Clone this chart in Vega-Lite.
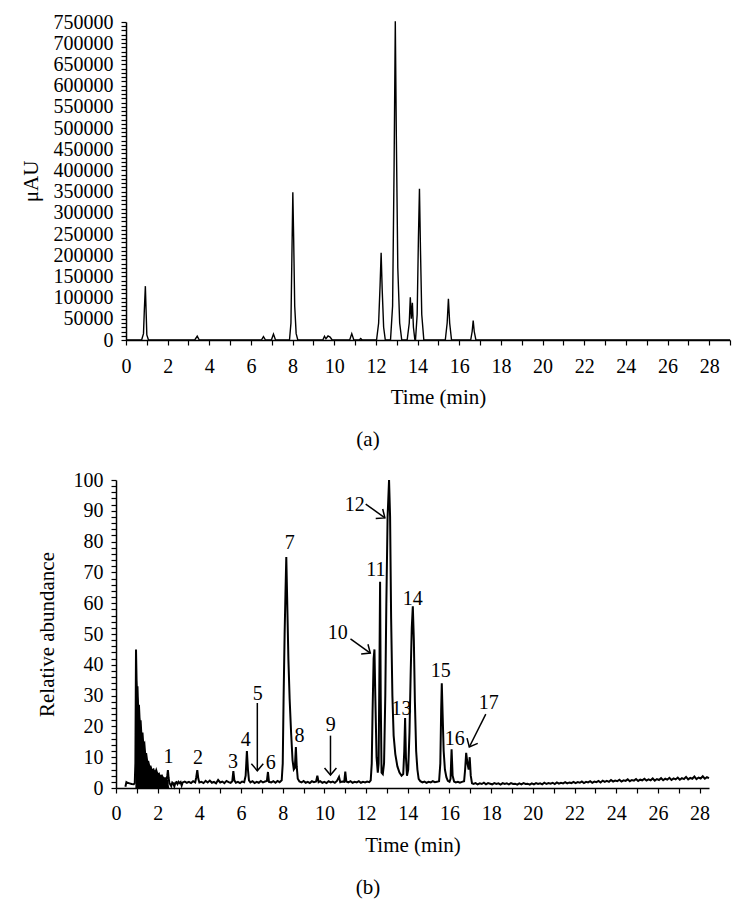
{
  "$schema": "https://vega.github.io/schema/vega-lite/v6.json",
  "background": "white",
  "padding": {"left": 20, "top": 12, "right": 5, "bottom": 5},
  "spacing": 20,
  "config": {
    "view": {"stroke": null},
    "font": "Liberation Serif",
    "axis": {
      "grid": false, "domainColor": "black", "domainWidth": 1.5, "tickColor": "black", "tickWidth": 1.2, "tickSize": 5,
      "labelColor": "black", "titleColor": "black", "labelFont": "Liberation Serif", "titleFont": "Liberation Serif",
      "labelFontSize": 20, "titleFontSize": 21, "titleFontWeight": "normal", "labelOverlap": false, "labelFlush": false, "labelBound": false
    },
    "title": {"font": "Liberation Serif", "fontSize": 21, "fontWeight": "normal", "color": "black"}
  },
  "datasets": {
    "a": [
      {"t":0,"v":0},{"t":0.75,"v":0},{"t":0.84,"v":15000},{"t":0.88,"v":70000},{"t":0.93,"v":127000},{"t":0.97,"v":60000},{"t":1.0,"v":12000},{"t":1.08,"v":0},
      {"t":3.3,"v":0},{"t":3.42,"v":9000},{"t":3.52,"v":0},
      {"t":6.5,"v":0},{"t":6.6,"v":8000},{"t":6.7,"v":0},
      {"t":6.98,"v":0},{"t":7.08,"v":14000},{"t":7.18,"v":0},
      {"t":7.85,"v":0},{"t":7.92,"v":40000},{"t":7.96,"v":180000},{"t":8.01,"v":348500},{"t":8.05,"v":240000},{"t":8.1,"v":80000},{"t":8.17,"v":15000},{"t":8.25,"v":0},
      {"t":9.45,"v":0},{"t":9.53,"v":9000},{"t":9.6,"v":3000},{"t":9.7,"v":9500},{"t":9.8,"v":7000},{"t":9.9,"v":0},
      {"t":10.74,"v":0},{"t":10.84,"v":15000},{"t":10.94,"v":0},
      {"t":11.2,"v":0},{"t":11.27,"v":3500},{"t":11.34,"v":0},
      {"t":12.03,"v":0},{"t":12.13,"v":40000},{"t":12.2,"v":130000},{"t":12.25,"v":205600},{"t":12.3,"v":120000},{"t":12.37,"v":30000},{"t":12.45,"v":0},
      {"t":12.7,"v":0},{"t":12.8,"v":80000},{"t":12.87,"v":400000},{"t":12.93,"v":752000},{"t":12.98,"v":480000},{"t":13.05,"v":170000},{"t":13.14,"v":40000},{"t":13.24,"v":0},
      {"t":13.5,"v":0},{"t":13.6,"v":40000},{"t":13.65,"v":101000},{"t":13.7,"v":50000},{"t":13.75,"v":88000},{"t":13.8,"v":30000},{"t":13.87,"v":0},
      {"t":13.9,"v":0},{"t":13.98,"v":60000},{"t":14.04,"v":240000},{"t":14.09,"v":356500},{"t":14.14,"v":210000},{"t":14.2,"v":60000},{"t":14.3,"v":0},
      {"t":15.33,"v":0},{"t":15.42,"v":40000},{"t":15.48,"v":97000},{"t":15.54,"v":40000},{"t":15.63,"v":0},
      {"t":16.55,"v":0},{"t":16.62,"v":20000},{"t":16.67,"v":46000},{"t":16.72,"v":20000},{"t":16.8,"v":0},
      {"t":29,"v":0}
    ],
    "fill": [
      {"t":0.93,"v":0},{"t":0.95,"v":44},{"t":0.97,"v":45},{"t":1.0,"v":36},{"t":1.05,"v":30},{"t":1.1,"v":27},{"t":1.15,"v":23},{"t":1.2,"v":20},{"t":1.25,"v":18},{"t":1.3,"v":15.5},{"t":1.35,"v":14},{"t":1.4,"v":12},{"t":1.45,"v":10.5},{"t":1.5,"v":9},{"t":1.55,"v":8.3},{"t":1.6,"v":7.5},{"t":1.68,"v":6.8},{"t":1.75,"v":6.2},{"t":1.85,"v":5.8},{"t":1.93,"v":5.6},{"t":2.0,"v":5},{"t":2.1,"v":4.4},{"t":2.2,"v":4},{"t":2.3,"v":3.4},{"t":2.4,"v":2.9},{"t":2.5,"v":2.5},{"t":2.55,"v":0}
    ],
    "b": [
      {"t":0.45,"v":0.4},{"t":0.5,"v":1.9},{"t":0.55,"v":1.7},{"t":0.65,"v":1.5},{"t":0.75,"v":1.3},{"t":0.85,"v":1.2},{"t":0.9,"v":1.6},{"t":0.93,"v":8},{"t":0.96,"v":45},
      {"t":1.0,"v":30},{"t":1.03,"v":33},{"t":1.06,"v":26},{"t":1.1,"v":27},{"t":1.14,"v":21},{"t":1.18,"v":22},{"t":1.22,"v":17},{"t":1.27,"v":18},{"t":1.31,"v":14},{"t":1.36,"v":14.5},{"t":1.4,"v":11},{"t":1.45,"v":11},{"t":1.5,"v":8.5},{"t":1.55,"v":8.5},{"t":1.6,"v":7},{"t":1.66,"v":7},{"t":1.72,"v":5.5},{"t":1.8,"v":6},{"t":1.86,"v":4.5},{"t":1.93,"v":5.8},{"t":2.0,"v":4.2},{"t":2.06,"v":4.6},{"t":2.12,"v":3.5},{"t":2.2,"v":4},{"t":2.28,"v":3},{"t":2.35,"v":3.2},{"t":2.42,"v":2.4},{"t":2.46,"v":4},{"t":2.49,"v":5.8},{"t":2.52,"v":3.5},{"t":2.56,"v":1.6},
      {"t":2.6,"v":1.2},{"t":2.65,"v":0.6},{"t":2.7,"v":1.8},{"t":2.75,"v":1.5},{"t":2.8,"v":0.5},{"t":2.85,"v":1.7},{"t":2.9,"v":1.9},{"t":2.95,"v":1.3},{"t":3.0,"v":2.0},{"t":3.05,"v":1.6},{"t":3.1,"v":1.9},{"t":3.15,"v":0.8},
      {"t":3.2,"v":1.8},{"t":3.3,"v":2.1},{"t":3.4,"v":1.7},{"t":3.5,"v":2.0},{"t":3.6,"v":1.6},{"t":3.7,"v":2.2},{"t":3.8,"v":1.8},{"t":3.85,"v":3.5},{"t":3.9,"v":5.8},{"t":3.95,"v":3.0},{"t":4.0,"v":1.8},{"t":4.1,"v":2.0},{"t":4.2,"v":1.6},{"t":4.3,"v":2.3},{"t":4.4,"v":1.8},{"t":4.5,"v":2.4},{"t":4.6,"v":1.7},{"t":4.7,"v":2.0},{"t":4.8,"v":1.5},{"t":4.9,"v":2.6},{"t":5.0,"v":1.8},{"t":5.1,"v":2.1},{"t":5.2,"v":1.6},{"t":5.3,"v":2.3},{"t":5.4,"v":1.9},{"t":5.5,"v":1.7},{"t":5.58,"v":2.2},{"t":5.63,"v":5.5},{"t":5.68,"v":2.5},{"t":5.75,"v":1.7},{"t":5.85,"v":2.0},{"t":5.95,"v":1.6},{"t":6.05,"v":2.1},{"t":6.15,"v":1.9},{"t":6.22,"v":4},{"t":6.28,"v":12},{"t":6.33,"v":6},{"t":6.38,"v":2.5},{"t":6.45,"v":1.8},{"t":6.55,"v":2.2},{"t":6.65,"v":1.6},{"t":6.75,"v":2.0},{"t":6.85,"v":1.7},{"t":6.95,"v":2.3},{"t":7.05,"v":1.8},{"t":7.15,"v":2.1},{"t":7.24,"v":2.3},{"t":7.29,"v":5.2},{"t":7.34,"v":2.0},{"t":7.45,"v":1.8},{"t":7.55,"v":2.2},{"t":7.65,"v":1.7},{"t":7.75,"v":2.3},{"t":7.85,"v":1.9},{"t":7.95,"v":2.5},
      {"t":8.0,"v":8},{"t":8.04,"v":29},{"t":8.09,"v":50},{"t":8.13,"v":63},{"t":8.17,"v":75},{"t":8.21,"v":62},{"t":8.27,"v":42},{"t":8.33,"v":29},{"t":8.4,"v":18},{"t":8.47,"v":9},{"t":8.53,"v":6},{"t":8.58,"v":6.5},{"t":8.63,"v":13.3},{"t":8.67,"v":7},{"t":8.72,"v":3},
      {"t":8.8,"v":2.1},{"t":8.9,"v":1.8},{"t":9.0,"v":2.3},{"t":9.1,"v":1.7},{"t":9.2,"v":2.0},{"t":9.3,"v":1.6},{"t":9.4,"v":2.2},{"t":9.5,"v":1.9},{"t":9.6,"v":2.1},{"t":9.66,"v":4},{"t":9.72,"v":1.9},{"t":9.8,"v":2.2},{"t":9.9,"v":1.7},{"t":10.0,"v":2.0},{"t":10.1,"v":1.6},{"t":10.2,"v":2.2},{"t":10.3,"v":1.8},{"t":10.4,"v":2.1},{"t":10.5,"v":1.7},{"t":10.6,"v":2.3},{"t":10.7,"v":3.6},{"t":10.76,"v":1.9},{"t":10.85,"v":2.1},{"t":10.95,"v":2.0},{"t":11.0,"v":5.3},{"t":11.05,"v":2.1},{"t":11.15,"v":1.8},{"t":11.25,"v":2.2},{"t":11.35,"v":1.7},{"t":11.45,"v":2.0},{"t":11.55,"v":1.8},{"t":11.65,"v":2.2},{"t":11.75,"v":1.7},{"t":11.85,"v":2.0},{"t":11.95,"v":1.8},{"t":12.05,"v":2.1},{"t":12.15,"v":1.9},
      {"t":12.22,"v":2.5},{"t":12.27,"v":8},{"t":12.31,"v":25},{"t":12.36,"v":42},{"t":12.4,"v":45},{"t":12.44,"v":30},{"t":12.5,"v":10},{"t":12.56,"v":5},{"t":12.6,"v":8},{"t":12.64,"v":40},{"t":12.67,"v":67},{"t":12.7,"v":30},{"t":12.74,"v":5},{"t":12.8,"v":4.5},{"t":12.86,"v":8},{"t":12.92,"v":30},{"t":12.97,"v":60},{"t":13.03,"v":88},{"t":13.1,"v":100},{"t":13.15,"v":88},{"t":13.2,"v":55},{"t":13.26,"v":30},{"t":13.32,"v":17},{"t":13.4,"v":11},{"t":13.5,"v":7},{"t":13.6,"v":5},{"t":13.7,"v":4},{"t":13.78,"v":4.5},{"t":13.83,"v":12},{"t":13.87,"v":22.7},{"t":13.91,"v":10},{"t":13.96,"v":4},{"t":14.02,"v":6},{"t":14.08,"v":18},{"t":14.14,"v":38},{"t":14.19,"v":52},{"t":14.24,"v":59},{"t":14.29,"v":48},{"t":14.34,"v":28},{"t":14.4,"v":12},{"t":14.46,"v":6},{"t":14.52,"v":3},
      {"t":14.6,"v":2.2},{"t":14.7,"v":1.8},{"t":14.8,"v":2.1},{"t":14.9,"v":1.7},{"t":15.0,"v":2.0},{"t":15.1,"v":1.8},{"t":15.2,"v":2.2},{"t":15.3,"v":1.9},{"t":15.4,"v":2.0},{"t":15.5,"v":2.2},{"t":15.56,"v":8},{"t":15.6,"v":25},{"t":15.63,"v":34},{"t":15.67,"v":24},{"t":15.72,"v":12},{"t":15.78,"v":6},{"t":15.85,"v":3.5},{"t":15.92,"v":2.3},{"t":16.0,"v":2.0},{"t":16.05,"v":3},{"t":16.1,"v":12.6},{"t":16.15,"v":4},{"t":16.22,"v":2.1},{"t":16.3,"v":1.8},{"t":16.4,"v":2.0},{"t":16.5,"v":1.7},{"t":16.6,"v":2.0},{"t":16.7,"v":2.2},{"t":16.75,"v":6},{"t":16.8,"v":11.4},{"t":16.86,"v":8},{"t":16.92,"v":6},{"t":16.97,"v":10},{"t":17.02,"v":4},
      {"t":17.08,"v":1.5},{"t":17.15,"v":1.3},{"t":17.25,"v":1.6},{"t":17.35,"v":1.2},{"t":17.45,"v":1.5},{"t":17.55,"v":1.3},{"t":17.65,"v":1.7},{"t":17.75,"v":1.2},{"t":17.85,"v":1.6},{"t":17.95,"v":1.4},{"t":18.05,"v":1.2},{"t":18.15,"v":1.6},{"t":18.25,"v":1.3},{"t":18.35,"v":1.5},{"t":18.45,"v":1.1},{"t":18.55,"v":1.6},{"t":18.65,"v":1.3},{"t":18.75,"v":1.5},{"t":18.85,"v":1.2},{"t":18.95,"v":1.6},{"t":19.05,"v":1.3},{"t":19.15,"v":1.4},{"t":19.25,"v":1.1},{"t":19.35,"v":1.5},{"t":19.45,"v":1.2},{"t":19.55,"v":1.6},{"t":19.65,"v":1.3},{"t":19.75,"v":1.4},{"t":19.85,"v":1.1},{"t":19.95,"v":1.5},{"t":20.05,"v":1.2},{"t":20.15,"v":1.6},{"t":20.25,"v":1.3},{"t":20.35,"v":1.5},{"t":20.45,"v":1.2},{"t":20.55,"v":1.7},{"t":20.65,"v":1.3},{"t":20.75,"v":1.6},{"t":20.85,"v":1.4},{"t":20.95,"v":1.7},{"t":21.05,"v":1.3},{"t":21.15,"v":1.8},{"t":21.25,"v":1.4},{"t":21.35,"v":1.7},{"t":21.45,"v":1.5},{"t":21.55,"v":1.9},{"t":21.65,"v":1.5},{"t":21.75,"v":1.8},{"t":21.85,"v":1.6},{"t":21.95,"v":2.0},{"t":22.05,"v":1.6},{"t":22.15,"v":1.9},{"t":22.25,"v":1.7},{"t":22.35,"v":2.1},{"t":22.45,"v":1.6},{"t":22.55,"v":2.0},{"t":22.65,"v":1.8},{"t":22.75,"v":2.2},{"t":22.85,"v":1.7},{"t":22.95,"v":2.1},{"t":23.05,"v":1.9},{"t":23.15,"v":2.3},{"t":23.25,"v":1.8},{"t":23.35,"v":2.4},{"t":23.45,"v":2.0},{"t":23.55,"v":2.3},{"t":23.65,"v":2.0},{"t":23.75,"v":2.6},{"t":23.85,"v":2.1},{"t":23.95,"v":2.4},{"t":24.05,"v":2.2},{"t":24.15,"v":2.7},{"t":24.25,"v":2.1},{"t":24.35,"v":2.5},{"t":24.45,"v":2.3},{"t":24.55,"v":2.8},{"t":24.65,"v":2.2},{"t":24.75,"v":2.6},{"t":24.85,"v":2.4},{"t":24.95,"v":2.9},{"t":25.05,"v":2.3},{"t":25.15,"v":2.7},{"t":25.25,"v":2.5},{"t":25.35,"v":3.0},{"t":25.45,"v":2.4},{"t":25.55,"v":2.8},{"t":25.65,"v":2.5},{"t":25.75,"v":3.1},{"t":25.85,"v":2.4},{"t":25.95,"v":2.9},{"t":26.05,"v":2.6},{"t":26.15,"v":3.2},{"t":26.25,"v":2.5},{"t":26.35,"v":3.0},{"t":26.45,"v":2.7},{"t":26.55,"v":3.3},{"t":26.65,"v":2.6},{"t":26.75,"v":3.1},{"t":26.85,"v":2.8},{"t":26.95,"v":3.4},{"t":27.05,"v":2.7},{"t":27.15,"v":3.2},{"t":27.25,"v":2.9},{"t":27.35,"v":3.6},{"t":27.45,"v":2.8},{"t":27.55,"v":3.3},{"t":27.65,"v":3.0},{"t":27.75,"v":3.7},{"t":27.85,"v":2.9},{"t":27.95,"v":3.4},{"t":28.05,"v":3.1},{"t":28.15,"v":3.8},{"t":28.25,"v":3.0},{"t":28.35,"v":3.5},{"t":28.45,"v":3.2}
    ],
    "labels": [
      {"t":2.52,"v":10,"label":"1"},{"t":3.93,"v":9.7,"label":"2"},{"t":5.61,"v":8.4,"label":"3"},{"t":6.23,"v":15.6,"label":"4"},{"t":6.8,"v":30.5,"label":"5"},{"t":7.43,"v":8.1,"label":"6"},{"t":8.34,"v":79.5,"label":"7"},{"t":8.8,"v":17,"label":"8"},{"t":10.3,"v":20.5,"label":"9"},{"t":10.64,"v":50.3,"label":"10"},{"t":12.47,"v":70.7,"label":"11"},{"t":11.46,"v":92,"label":"12"},{"t":13.7,"v":25.6,"label":"13"},{"t":14.24,"v":61.4,"label":"14"},{"t":15.58,"v":38,"label":"15"},{"t":16.25,"v":15.9,"label":"16"},{"t":17.88,"v":27.6,"label":"17"}
    ],
    "arrows": [
      {"t":6.78,"v":27.6,"t2":6.78,"v2":5.6},{"t":10.29,"v":17,"t2":10.29,"v2":4.2},{"t":11.25,"v":48.4,"t2":12.2,"v2":43.8},{"t":11.98,"v":92.2,"t2":12.9,"v2":87.7},{"t":17.74,"v":24,"t2":16.95,"v2":13.3}
    ],
    "heads": [
      {"t":6.78,"v":5.6,"ang":0},{"t":10.29,"v":4.2,"ang":0},{"t":12.2,"v":43.8,"ang":305},{"t":12.9,"v":87.7,"ang":306},{"t":16.95,"v":13.3,"ang":26}
    ]
  },
  "vconcat": [
    {
      "width": 614, "height": 318,
      "title": {"text": "(a)", "orient": "bottom", "frame": "group", "anchor": "middle", "dx": -55, "offset": 22, "fontSize": 21},
      "data": {"name": "a"},
      "mark": {"type": "line", "color": "black", "strokeWidth": 1.4},
      "encoding": {
        "x": {"field": "t", "type": "quantitative",
          "scale": {"domain": [0, 29], "range": [10, 614], "nice": false, "zero": false},
          "axis": {"title": "Time (min)", "titleX": 322, "titlePadding": 10, "labelPadding": 11, "format": "d",
            "values": [0,0.5,1,1.5,2,2.5,3,3.5,4,4.5,5,5.5,6,6.5,7,7.5,8,8.5,9,9.5,10,10.5,11,11.5,12,12.5,13,13.5,14,14.5,15,15.5,16,16.5,17,17.5,18,18.5,19,19.5,20,20.5,21,21.5,22,22.5,23,23.5,24,24.5,25,25.5,26,26.5,27,27.5,28,28.5,29],
            "labelExpr": "datum.value % 2 === 0 ? datum.label : ''"}},
        "y": {"field": "v", "type": "quantitative",
          "scale": {"domain": [0, 750000], "nice": false},
          "axis": {"title": "μAU", "offset": -10, "titlePadding": 12, "labelPadding": 8, "format": "d",
            "values": [0,10000,20000,30000,40000,50000,60000,70000,80000,90000,100000,110000,120000,130000,140000,150000,160000,170000,180000,190000,200000,210000,220000,230000,240000,250000,260000,270000,280000,290000,300000,310000,320000,330000,340000,350000,360000,370000,380000,390000,400000,410000,420000,430000,440000,450000,460000,470000,480000,490000,500000,510000,520000,530000,540000,550000,560000,570000,580000,590000,600000,610000,620000,630000,640000,650000,660000,670000,680000,690000,700000,710000,720000,730000,740000,750000],
            "labelExpr": "datum.value % 50000 === 0 ? datum.label : ''"}}
      }
    },
    {
      "width": 593, "height": 308,
      "title": {"text": "(b)", "orient": "bottom", "frame": "group", "anchor": "middle", "dx": -44.5, "offset": 22, "fontSize": 21},
      "encoding": {
        "x": {"field": "t", "type": "quantitative",
          "scale": {"domain": [0, 28.45], "nice": false, "zero": false},
          "axis": {"title": "Time (min)", "titlePadding": 11, "labelPadding": 10, "format": "d",
            "values": [0,0.5,1,1.5,2,2.5,3,3.5,4,4.5,5,5.5,6,6.5,7,7.5,8,8.5,9,9.5,10,10.5,11,11.5,12,12.5,13,13.5,14,14.5,15,15.5,16,16.5,17,17.5,18,18.5,19,19.5,20,20.5,21,21.5,22,22.5,23,23.5,24,24.5,25,25.5,26,26.5,27,27.5,28],
            "labelExpr": "datum.value % 2 === 0 ? datum.label : ''"}},
        "y": {"field": "v", "type": "quantitative",
          "scale": {"domain": [0, 100], "nice": false},
          "axis": {"title": "Relative abundance", "titlePadding": 16, "labelPadding": 8, "format": "d",
            "values": [0,2,4,6,8,10,12,14,16,18,20,22,24,26,28,30,32,34,36,38,40,42,44,46,48,50,52,54,56,58,60,62,64,66,68,70,72,74,76,78,80,82,84,86,88,90,92,94,96,98,100],
            "labelExpr": "datum.value % 10 === 0 ? datum.label : ''"}}
      },
      "layer": [
        {"data": {"name": "fill"}, "mark": {"type": "area", "color": "black"}},
        {"data": {"name": "b"}, "mark": {"type": "line", "color": "black", "strokeWidth": 2}},
        {"data": {"name": "arrows"}, "mark": {"type": "rule", "color": "black", "strokeWidth": 1.5},
          "encoding": {"x2": {"field": "t2"}, "y2": {"field": "v2"}}},
        {"data": {"name": "heads"}, "mark": {"type": "point", "shape": "M -0.85 -1 L 0 0 L 0.85 -1", "filled": false, "size": 196, "strokeWidth": 1.5, "color": "black", "opacity": 1},
          "encoding": {"angle": {"field": "ang", "type": "quantitative", "scale": null}}},
        {"data": {"name": "labels"}, "mark": {"type": "text", "fontSize": 20, "font": "Liberation Serif", "baseline": "middle", "align": "center", "color": "black"},
          "encoding": {"text": {"field": "label"}}}
      ]
    }
  ]
}
